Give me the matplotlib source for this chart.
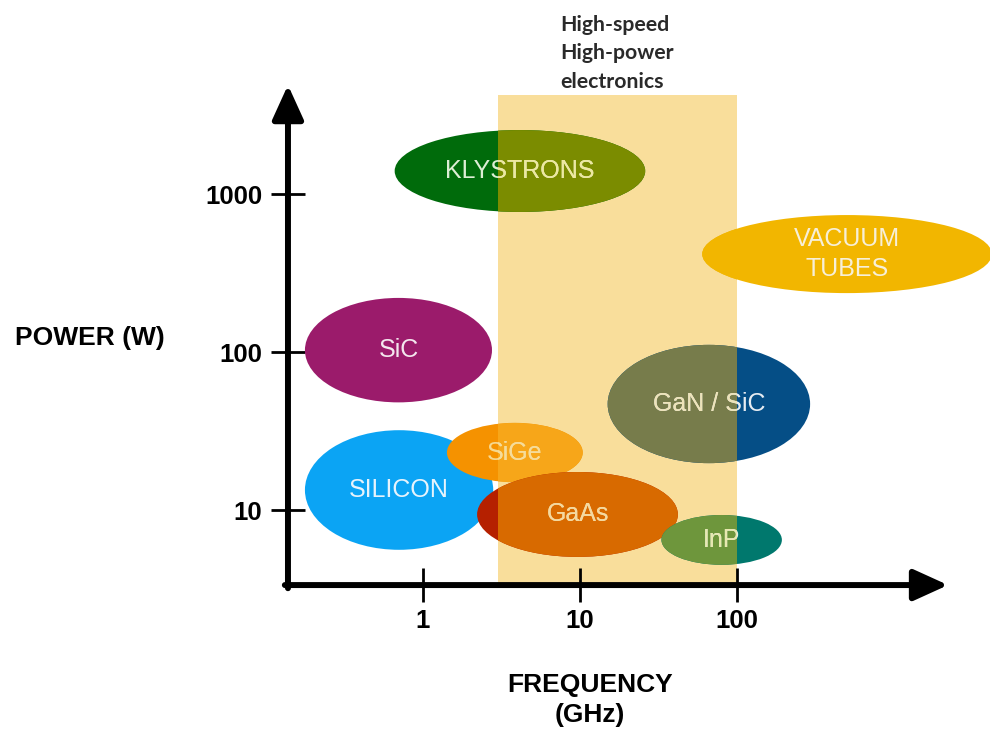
import numpy as np
import matplotlib.pyplot as plt
from matplotlib.patches import Ellipse, Rectangle
from matplotlib.transforms import Bbox, TransformedBbox

plt.rcParams['font.family'] = ['Liberation Sans', 'DejaVu Sans']

# technology regions (GHz, W)
names = ['KLYSTRONS', 'VACUUM\nTUBES', 'SiC', 'SILICON', 'SiGe', 'GaAs', 'InP', 'GaN / SiC']
f_lo = [0.66, 60, 0.177, 0.177, 1.42, 2.21, 33, 15]
f_hi = [26, 4200, 2.75, 2.8, 10.4, 42, 193, 292]
p_lo = [770, 236, 48, 5.6, 15, 5.05, 4.5, 19.8]
p_hi = [2540, 736, 220, 32, 35.6, 17.4, 9.3, 111]

# fill outside / inside the highlighted band
col_out = ['#006B0B', '#F2B600', '#9B1B6B', '#0BA4F4', '#F59200', '#B52000', '#00786D', '#054E86']
col_in = ['#7B8C00', '#F2B600', '#9B1B6B', '#0BA4F4', '#F7A619', '#D86A00', '#6E963C', '#777C4B']
txt_out = ['#DDEED5', '#F7EFD8', '#F4E6EE', '#E6F3FC', '#F5D890', '#F4D9A0', '#DDEEE8', '#E6ECF2']
txt_in = ['#EEE8A0', '#F7EFD8', '#F4E6EE', '#E6F3FC', '#F5DC9A', '#F4D9A0', '#E8E8B0', '#EEE3B8']

band_f = (3, 100)
band_p_top = 4240
xticks = [1, 10, 100]
yticks = [10, 100, 1000]

fig = plt.figure(figsize=(9.9, 7.32), dpi=100)
ax = fig.add_axes([0, 0, 1, 1])
ax.set_xlim(-2.694, 3.611)
ax.set_ylim(-0.405, 4.228)

x_ax = -0.86   # position of the y axis (log10 GHz)
y_ax = 0.525   # position of the x axis (log10 W)

# band
bx0, bx1 = np.log10(band_f[0]), np.log10(band_f[1])
band = Rectangle((bx0, y_ax), bx1 - bx0, np.log10(band_p_top) - y_ax,
                 fc='#F9DE9B', ec='none', zorder=1)
ax.add_patch(band)
clip = TransformedBbox(Bbox([[bx0, -10], [bx1, 10]]), ax.transData)

for i, name in enumerate(names):
    x0, x1 = np.log10(f_lo[i]), np.log10(f_hi[i])
    y0, y1 = np.log10(p_lo[i]), np.log10(p_hi[i])
    cx, cy = (x0 + x1) / 2, (y0 + y1) / 2
    z = 2 + i * 0.1
    ax.add_patch(Ellipse((cx, cy), x1 - x0, y1 - y0, fc=col_out[i], ec='none', zorder=z))
    e = Ellipse((cx, cy), x1 - x0, y1 - y0, fc=col_in[i], ec='none', zorder=z + 0.01)
    ax.add_patch(e)
    e.set_clip_box(clip)
    kw = dict(ha='center', va='center', fontsize=18, linespacing=1.3)
    ax.text(cx, cy, name, color=txt_out[i], zorder=z + 0.02, **kw)
    t = ax.text(cx, cy, name, color=txt_in[i], zorder=z + 0.03, **kw)
    t.set_clip_on(True)
    t.set_clip_box(clip)

# axes with arrows
for s in ax.spines.values():
    s.set_visible(False)
ax.spines['left'].set_position(('data', x_ax))
ax.spines['bottom'].set_position(('data', y_ax))
arrow = dict(arrowstyle='-|>,head_length=1.1,head_width=0.5', lw=4.3,
             color='black', shrinkA=0, shrinkB=0, mutation_scale=19)
ax.annotate('', xy=(x_ax, 3.69), xytext=(x_ax, y_ax - 0.02), arrowprops=arrow, zorder=10)
ax.annotate('', xy=(3.344, y_ax), xytext=(x_ax - 0.02, y_ax), arrowprops=arrow, zorder=10)

ax.set_xticks(np.log10(xticks))
ax.set_xticklabels([str(v) for v in xticks])
ax.set_yticks(np.log10(yticks))
ax.set_yticklabels([str(v) for v in yticks])
ax.tick_params(direction='inout', length=24, width=2, labelsize=18.5, zorder=11)
ax.tick_params(axis='y', pad=6.5)
ax.tick_params(axis='x', pad=5)
for lab in ax.get_xticklabels() + ax.get_yticklabels():
    lab.set_fontweight('bold')

ax.text(-2.121, 2.089, 'POWER (W)', ha='center', va='center', fontsize=19, fontweight='bold')
ax.text(1.064, -0.203, 'FREQUENCY\n(GHz)', ha='center', va='center', fontsize=19,
        fontweight='bold', linespacing=1.3)
ax.text(0.873, 3.89, 'High-speed\nHigh-power\nelectronics', ha='left', va='center',
        fontsize=15.3, fontweight='bold', color='#2A2A2A', linespacing=1.55, family='Lato')

fig.savefig('out.png', dpi=100)
